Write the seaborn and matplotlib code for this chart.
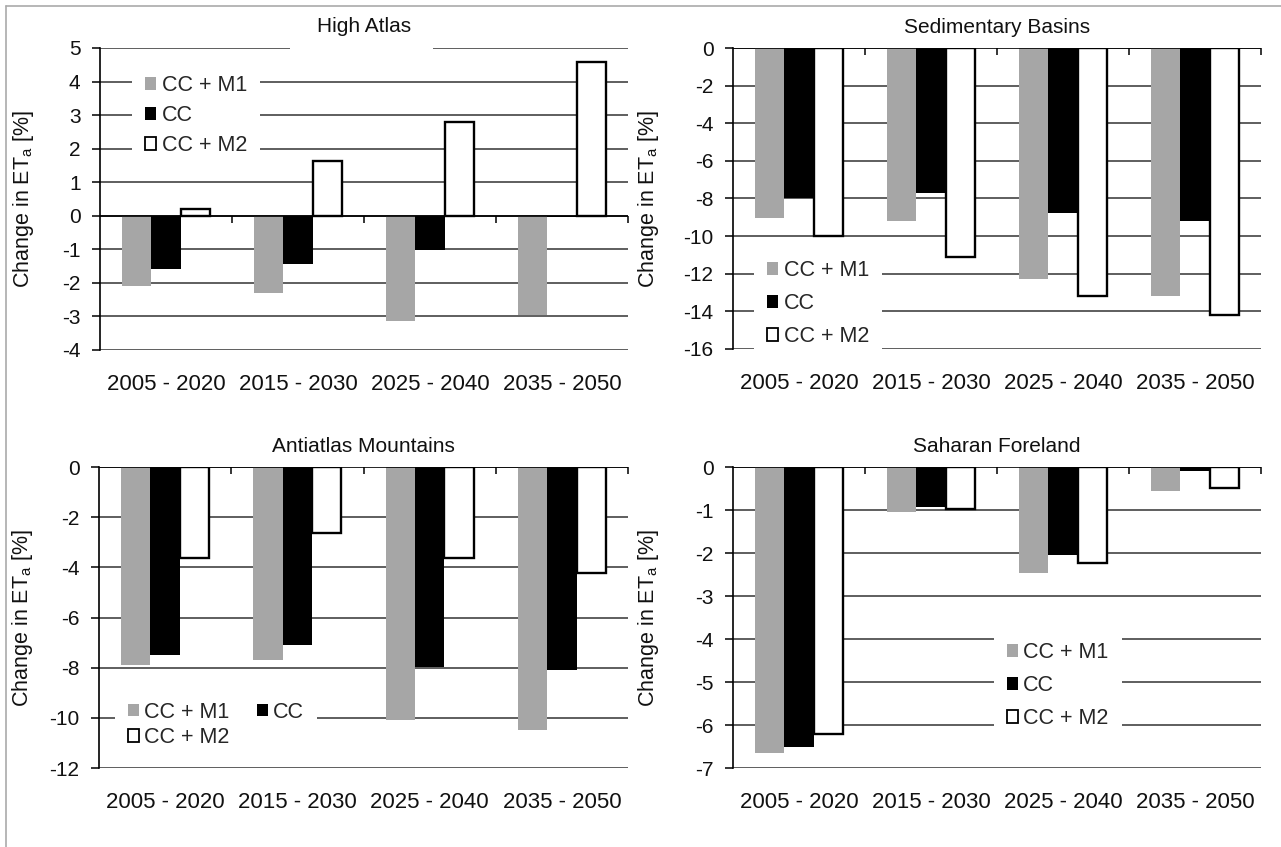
import numpy as np
import pandas as pd
import seaborn as sns
import matplotlib.pyplot as plt
from matplotlib.patches import Patch, Rectangle
from matplotlib.lines import Line2D

# Periods on the category axis and the three scenarios
periods = ["2005 - 2020", "2015 - 2030", "2025 - 2040", "2035 - 2050"]
scenarios = ["CC + M1", "CC", "CC + M2"]

# Change in actual evapotranspiration [%] per region and scenario
high_atlas_m1 = [-2.1, -2.3, -3.15, -2.97]
high_atlas_cc = [-1.6, -1.45, -1.03, -0.04]
high_atlas_m2 = [0.2, 1.64, 2.79, 4.57]

sed_basins_m1 = [-9.06, -9.2, -12.3, -13.2]
sed_basins_cc = [-8.0, -7.72, -8.78, -9.2]
sed_basins_m2 = [-10.0, -11.13, -13.2, -14.2]

antiatlas_m1 = [-7.88, -7.71, -10.1, -10.5]
antiatlas_cc = [-7.48, -7.08, -7.97, -8.1]
antiatlas_m2 = [-3.63, -2.63, -3.63, -4.23]

saharan_m1 = [-6.64, -1.05, -2.47, -0.56]
saharan_cc = [-6.51, -0.93, -2.05, -0.09]
saharan_m2 = [-6.22, -0.97, -2.23, -0.48]

sns.set_theme(style="white")
plt.rcParams["font.family"] = ["Liberation Sans", "DejaVu Sans"]
plt.rcParams["axes.unicode_minus"] = False

colors = {"CC + M1": "#a6a6a6", "CC": "#000000", "CC + M2": "#ffffff"}
W, H = 1281, 847

panels = [
    dict(title="High Atlas", m1=high_atlas_m1, cc=high_atlas_cc, m2=high_atlas_m2,
         ylim=(-4, 5), step=1, box=(100, 48, 528, 302),
         leg=dict(anchor=(0.061, 0.776), ncol=1, ls=0.41), ylab_x=-0.121),
    dict(title="Sedimentary Basins", m1=sed_basins_m1, cc=sed_basins_cc, m2=sed_basins_m2,
         ylim=(-16, 0), step=2, box=(733, 48, 528, 301),
         leg=dict(anchor=(0.040, 0.151), ncol=1, ls=0.55), ylab_x=-0.137),
    dict(title="Antiatlas Mountains", m1=antiatlas_m1, cc=antiatlas_cc, m2=antiatlas_m2,
         ylim=(-12, 0), step=2, box=(99, 467, 529, 301),
         leg=dict(anchor=(0.030, 0.143), ncol=2, ls=0.2), ylab_x=-0.121),
    dict(title="Saharan Foreland", m1=saharan_m1, cc=saharan_cc, m2=saharan_m2,
         ylim=(-7, 0), step=1, box=(733, 467, 528, 301),
         leg=dict(anchor=(0.494, 0.274), ncol=1, ls=0.55), ylab_x=-0.137),
]

fig = plt.figure(figsize=(W / 100, H / 100), dpi=100)

for p in panels:
    x0, y0, w, h = p["box"]
    ax = fig.add_axes([x0 / W, 1 - (y0 + h) / H, w / W, h / H])

    df = pd.DataFrame({
        "period": periods * 3,
        "scenario": np.repeat(scenarios, len(periods)),
        "value": p["m1"] + p["cc"] + p["m2"],
    })
    sns.barplot(data=df, x="period", y="value", hue="scenario", hue_order=scenarios,
                order=periods, palette=colors, saturation=1, width=2 / 3, gap=0,
                errorbar=None, legend=False, ax=ax)

    # outlined white bars, flat grey/black bars
    for name, cont in zip(scenarios, ax.containers):
        for bar in cont:
            if name == "CC + M2":
                bar.set_edgecolor("black")
                bar.set_linewidth(1.7)
            else:
                bar.set_edgecolor("none")
                bar.set_linewidth(0)

    lo, hi = p["ylim"]
    ticks = np.arange(lo, hi + p["step"] / 2, p["step"])
    ax.set_xlim(-0.5, 3.5)
    ax.set_ylim(lo, hi)
    ax.set_yticks(ticks)
    ax.set_yticklabels([f"{v:g}" for v in ticks])

    ax.yaxis.grid(True, color="#333333", lw=1.1)
    ax.xaxis.grid(False)
    ax.set_axisbelow(True)
    for side in ("top", "right", "bottom"):
        ax.spines[side].set_visible(False)
    ax.spines["left"].set_color("black")
    ax.spines["left"].set_linewidth(1.2)

    ax.tick_params(axis="y", left=True, length=6, width=1.1, color="black",
                   direction="out", labelsize=15, pad=8, labelcolor="#111111")
    ax.tick_params(axis="x", length=0, labelsize=16, pad=17, labelcolor="#111111")
    ax.set_xlabel("")
    ax.set_ylabel("Change in ET$_\\mathregular{a}$ [%]", fontsize=15.5, color="#111111")
    ax.yaxis.set_label_coords(p["ylab_x"], 0.5)

    # category axis crossing at zero with tick marks between periods
    ax.axhline(0, color="black", lw=1.2, zorder=3)
    ax.plot([0.5, 1.5, 2.5, 3.5], [0] * 4, ls="none", marker=3, ms=5, mew=1.1,
            color="black", zorder=3, clip_on=False)

    # title, with a white backing that interrupts the top gridline
    ax.add_patch(Rectangle((0.36, 0.97), 0.27, 0.06, transform=ax.transAxes,
                           facecolor="white", edgecolor="none", zorder=0.8, clip_on=False))
    ax.text(0.5, 1 + 21 / h, p["title"], transform=ax.transAxes, ha="center",
            va="center", fontsize=15, color="#111111")

    handles = {
        "CC + M1": Patch(facecolor=colors["CC + M1"], edgecolor="none"),
        "CC": Patch(facecolor=colors["CC"], edgecolor="none"),
        "CC + M2": Patch(facecolor=colors["CC + M2"], edgecolor="black", linewidth=1.3),
    }
    lg = p["leg"]
    # two-column legend fills row by row: M1, CC / M2
    order = ["CC + M1", "CC + M2", "CC"] if lg["ncol"] == 2 else scenarios
    ax.legend([handles[k] for k in order], order, loc="center left",
              bbox_to_anchor=lg["anchor"], borderaxespad=0, frameon=True,
              facecolor="white", edgecolor="none", framealpha=1, fancybox=False,
              fontsize=15.5, handlelength=0.52, handleheight=0.52, handletextpad=0.25,
              labelspacing=lg["ls"], borderpad=0.6, ncol=lg["ncol"], columnspacing=1.25)

# light frame around the figure
fig.add_artist(Line2D([6 / W, 6 / W], [0, 1 - 6 / H], transform=fig.transFigure,
                      color="#aaaaaa", lw=1.2, zorder=10))
fig.add_artist(Line2D([6 / W, 1], [1 - 6 / H, 1 - 6 / H], transform=fig.transFigure,
                      color="#aaaaaa", lw=1.2, zorder=10))

fig.savefig("out.png", dpi=100)
